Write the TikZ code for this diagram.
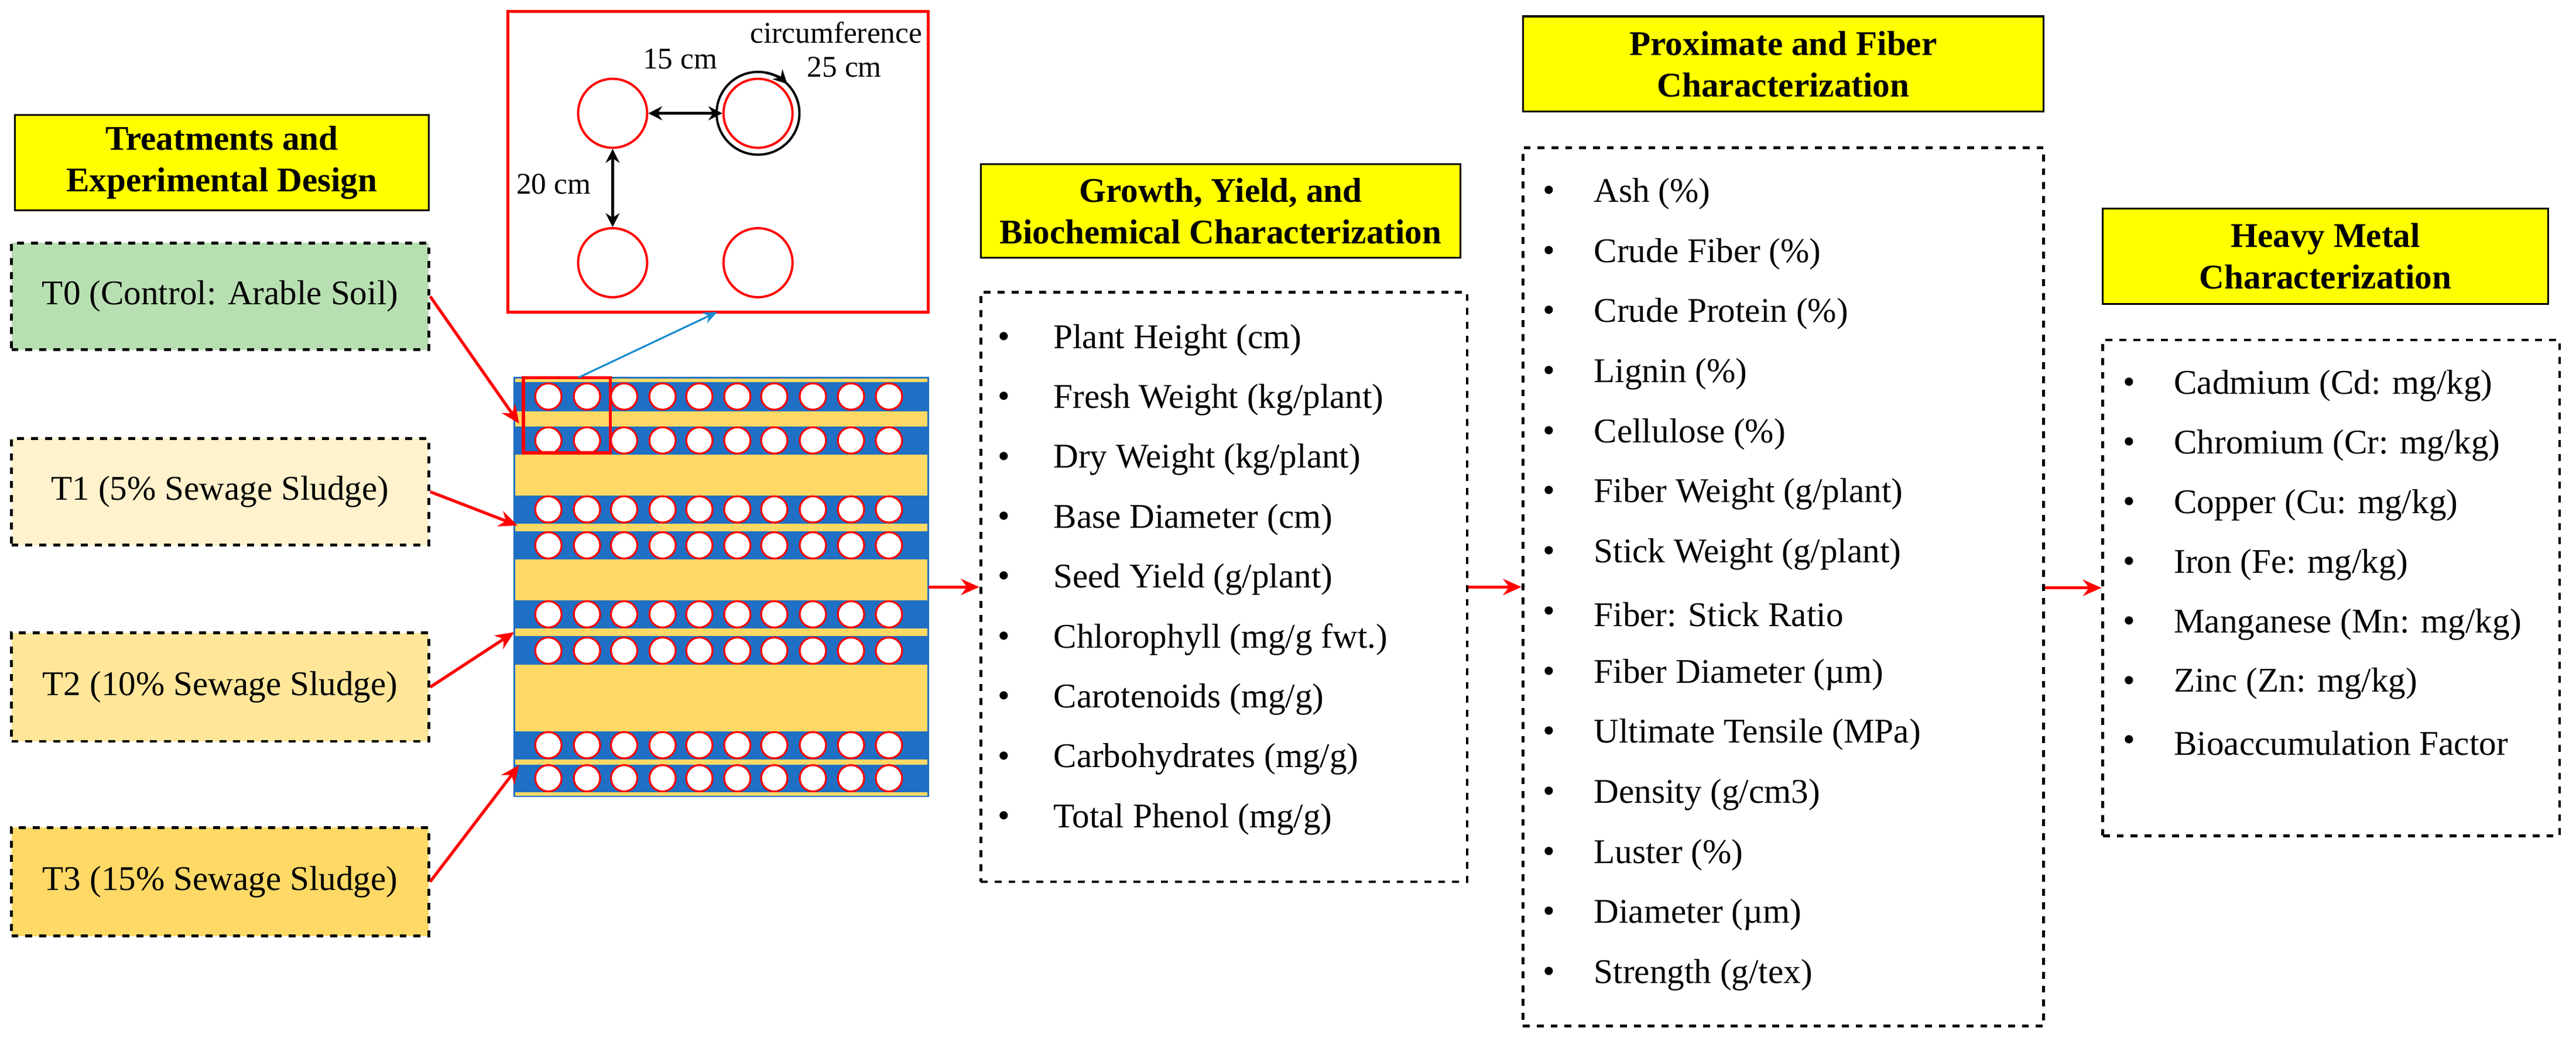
\documentclass[tikz,border=0pt]{standalone}
\usepackage{fontspec}
\setmainfont{Liberation Serif}
\usetikzlibrary{arrows.meta}
\definecolor{plotyel}{HTML}{FFD966}
\definecolor{plotblue}{HTML}{1F6FC4}
\definecolor{titleyel}{HTML}{FFFF00}
\definecolor{tzero}{HTML}{B8DFB2}
\definecolor{tone}{HTML}{FFF2CC}
\definecolor{ttwo}{HTML}{FFE699}
\begin{document}
\begin{tikzpicture}[x=0.025cm,y=-0.025cm,
  title/.style={draw=black,fill=titleyel,line width=0.8pt,align=center,font=\fontsize{15}{18}\selectfont\bfseries,inner sep=0pt},
  treat/.style={draw=black,dashed,line width=1.2pt,inner sep=0pt,font=\fontsize{15}{18}\selectfont},
  list/.style={draw=black,dashed,line width=1.2pt,inner sep=0pt},
  item/.style={anchor=west,font=\fontsize{15}{18}\selectfont,inner sep=0pt},
  redarr/.style={red,line width=1.3pt,-{Stealth[length=8pt,width=7pt]}},
  dimarr/.style={black,line width=1.3pt,{Stealth[length=6pt,width=6pt]}-{Stealth[length=6pt,width=6pt]}},
  plant/.style={draw=red,fill=white,line width=0.8pt}]
\useasboundingbox (0,0) rectangle (1568,632);

% titles
\node[title,minimum width=252*0.025cm,minimum height=58*0.025cm] (tt) at (135,99) {Treatments and\\Experimental Design};
\node[title,minimum width=292*0.025cm,minimum height=57*0.025cm] (tg) at (743,128.5) {Growth, Yield, and\\Biochemical Characterization};
\node[title,minimum width=317*0.025cm,minimum height=58*0.025cm] (tp) at (1085.5,39) {Proximate and Fiber\\Characterization};
\node[title,minimum width=271*0.025cm,minimum height=58*0.025cm] (th) at (1415.5,156) {Heavy Metal\\Characterization};

% treatments
\node[treat,fill=tzero,minimum width=254*0.025cm,minimum height=65*0.025cm] (t0) at (134,180.5) {T0 (Control: Arable Soil)};
\node[treat,fill=tone,minimum width=254*0.025cm,minimum height=65*0.025cm] (t1) at (134,299.5) {T1 (5\% Sewage Sludge)};
\node[treat,fill=ttwo,minimum width=254*0.025cm,minimum height=66*0.025cm] (t2) at (134,418.5) {T2 (10\% Sewage Sludge)};
\node[treat,fill=plotyel,minimum width=254*0.025cm,minimum height=66*0.025cm] (t3) at (134,537) {T3 (15\% Sewage Sludge)};

% field plot
\fill[plotyel,draw=plotblue,line width=0.6pt] (313,230) rectangle (565,485);
\node[inner sep=0pt,minimum width=252*0.025cm,minimum height=255*0.025cm] (plot) at (439,357.5) {};
\foreach \ya/\yb in {232.6/250.4,259.7/276.8,301.7/318.8,323.6/340.7,365.6/382.7,387.5/405,445.3/462.4,465.6/482.4}{
  \fill[plotblue] (313.5,\ya) rectangle (565,\yb);
  \foreach \cx in {333.8,357.3,379.9,403.3,425.7,448.8,471.3,494.8,518,541.1}
    \draw[plant] (\cx,{(\ya+\yb)/2}) circle[radius=0.2cm];
}
\draw[red,line width=1.3pt] (318.6,230) rectangle (371.4,275.8);
\coordinate (zsrc) at (352,230);

% inset
\draw[red,line width=1.3pt] (309,7) rectangle (565,190);
\coordinate (zdst) at (436.6,190);
\node[plant,circle,minimum size=1.05cm,inner sep=0pt,line width=1pt] (c1) at (372.9,69) {};
\node[plant,circle,minimum size=1.05cm,inner sep=0pt,line width=1pt] (c2) at (461.4,69) {};
\node[plant,circle,minimum size=1.05cm,inner sep=0pt,line width=1pt] (c3) at (372.9,160) {};
\node[plant,circle,minimum size=1.05cm,inner sep=0pt,line width=1pt] (c4) at (461.4,160) {};
\draw[black,line width=1pt] (461.4,69) circle[radius=0.63cm];
\draw[black,line width=1pt,-{Stealth[length=6pt,width=6pt]}] (461.4,69) ++(80:0.63cm) arc[start angle=80,end angle=45,radius=0.63cm];
\draw[dimarr] (c1) -- (c2);
\draw[dimarr] (c1) -- (c3);
\node[font=\fontsize{13}{15}\selectfont] (l15) at (414,36) {15 cm};
\node[font=\fontsize{13}{15}\selectfont] (l20) at (337,112) {20 cm};
\node[font=\fontsize{13}{15}\selectfont] (lcirc) at (509,20) {circumference};
\node[font=\fontsize{13}{15}\selectfont] (l25) at (514,41) {25 cm};
\draw[plotblue!80!cyan,line width=0.8pt,-{Stealth[length=6pt,width=5pt]}] (zsrc) -- (zdst);

% lists
\node[list,minimum width=296*0.025cm,minimum height=359*0.025cm] (lg) at (745,357.5) {};
\node[list,minimum width=317*0.025cm,minimum height=535*0.025cm] (lp) at (1085.5,357.5) {};
\node[list,minimum width=278*0.025cm,minimum height=302*0.025cm] (lh) at (1419,358) {};

\foreach \t [count=\i from 0] in {Plant Height (cm),Fresh Weight (kg/plant),Dry Weight (kg/plant),Base Diameter (cm),Seed Yield (g/plant),Chlorophyll (mg/g fwt.),Carotenoids (mg/g),Carbohydrates (mg/g),Total Phenol (mg/g)}{
  \node[item] at (607,{207+36.5*\i}) {\textbullet};
  \node[item] (g\i) at (641,{207+36.5*\i}) {\t};
}
\foreach \t [count=\i from 0] in {Ash (\%),Crude Fiber (\%),Crude Protein (\%),Lignin (\%),Cellulose (\%),Fiber Weight (g/plant),Stick Weight (g/plant),Fiber: Stick Ratio,Fiber Diameter (µm),Ultimate Tensile (MPa),Density (g/cm3),Luster (\%),Diameter (µm),Strength (g/tex)}{
  \node[item] at (939,{118+36.6*\i}) {\textbullet};
  \node[item] (p\i) at (970,{118+36.6*\i}) {\t};
}
\foreach \t [count=\i from 0] in {Cadmium (Cd: mg/kg),Chromium (Cr: mg/kg),Copper (Cu: mg/kg),Iron (Fe: mg/kg),Manganese (Mn: mg/kg),Zinc (Zn: mg/kg),Bioaccumulation Factor}{
  \node[item] at (1292,{235+36.3*\i}) {\textbullet};
  \node[item] (h\i) at (1323,{235+36.3*\i}) {\t};
}

% connectors
\coordinate (a0) at (316,258);
\coordinate (a1) at (315,320);
\coordinate (a2) at (313,385);
\coordinate (a3) at (316,466);
\draw[redarr] (t0.east) -- (a0);
\draw[redarr] (t1.east) -- (a1);
\draw[redarr] (t2.east) -- (a2);
\draw[redarr] (t3.east) -- (a3);
\draw[redarr] (plot.east |- lg.west) -- (lg.west);
\draw[redarr] (lg.east) -- (lp.west);
\draw[redarr] (lp.east |- lh.west) -- (lh.west);
\end{tikzpicture}
\end{document}
